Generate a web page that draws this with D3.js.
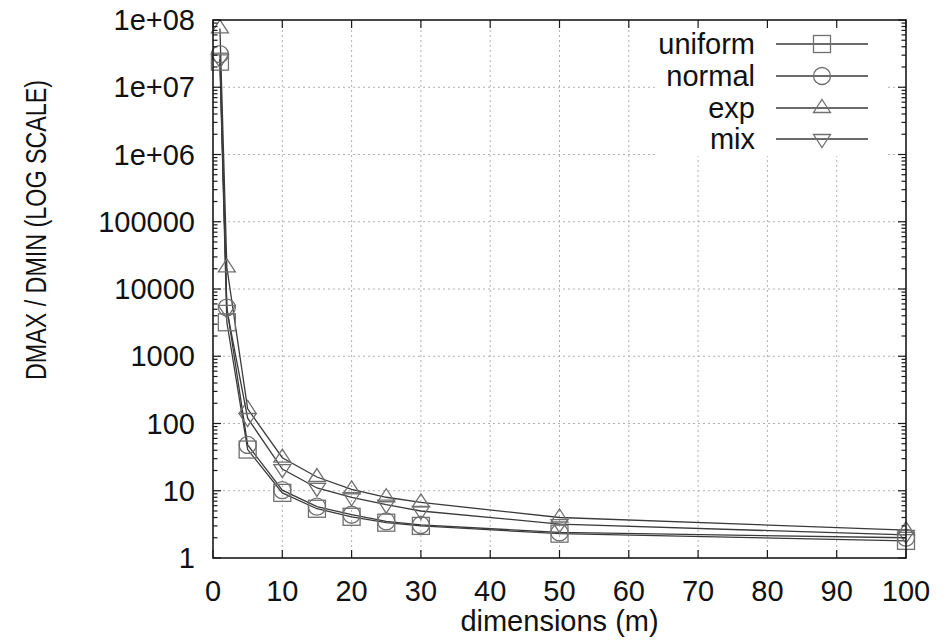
<!DOCTYPE html>
<html>
<head>
<meta charset="utf-8">
<script src="https://cdn.jsdelivr.net/npm/d3@7"></script>
<style>
  html, body { margin: 0; padding: 0; background: #fff; }
  svg { display: block; }
  text { font-family: "Liberation Sans", Arial, Helvetica, sans-serif; fill: #111; }
</style>
</head>
<body>
<svg id="chart" width="951" height="640"></svg>
<script>
// Dimensions m sampled in the experiment
const dims = [1, 2, 5, 10, 15, 20, 25, 30, 50, 100];

// DMAX / DMIN ratio per data distribution
const uniformVals = [2.4e7, 3200, 41, 9.3, 5.4, 4.1, 3.35, 3.0, 2.3, 1.8];
const normalVals  = [3.1e7, 5300, 48, 10.2, 5.8, 4.4, 3.5, 3.1, 2.4, 2.0];
const expVals     = [7.5e7, 21000, 165, 31, 16, 10.5, 8.0, 6.7, 4.0, 2.6];
const mixVals     = [2.6e7, 4900, 120, 21, 11, 8.0, 6.2, 5.0, 3.2, 2.2];

const seriesNames = ["uniform", "normal", "exp", "mix"];
const seriesShapes = ["square", "circle", "up", "down"];

const xTickValues = [0, 10, 20, 30, 40, 50, 60, 70, 80, 90, 100];
const yTickValues = [1, 10, 100, 1000, 10000, 100000, 1e6, 1e7, 1e8];
const yTickLabels = ["1", "10", "100", "1000", "10000", "100000", "1e+06", "1e+07", "1e+08"];

const xTitle = "dimensions (m)";
const yTitle = "DMAX / DMIN (LOG SCALE)";

const series = [uniformVals, normalVals, expVals, mixVals].map((vals, i) => ({
  name: seriesNames[i],
  shape: seriesShapes[i],
  points: dims.map((d, j) => ({ x: d, y: vals[j] }))
}));

const svg = d3.select("#chart");
const plot = { left: 213, right: 906, top: 20, bottom: 558 };

const x = d3.scaleLinear().domain([0, 100]).range([plot.left, plot.right]);
const y = d3.scaleLog().domain([1, 1e8]).range([plot.bottom, plot.top]);

const lineColor = "#3a3a3a";
const markColor = "#707070";
const axisColor = "#1a1a1a";

// Dotted grid at major ticks
const grid = svg.append("g");
grid.selectAll("line.gx").data(xTickValues.slice(1, -1)).join("line")
  .attr("x1", d => x(d)).attr("x2", d => x(d))
  .attr("y1", plot.top).attr("y2", plot.bottom)
  .attr("stroke", "#b0b0b0").attr("stroke-width", 1).attr("stroke-dasharray", "2,3");
grid.selectAll("line.gy").data(yTickValues.slice(1, -1)).join("line")
  .attr("x1", plot.left).attr("x2", plot.right)
  .attr("y1", d => y(d)).attr("y2", d => y(d))
  .attr("stroke", "#b0b0b0").attr("stroke-width", 1).attr("stroke-dasharray", "2,3");

// Key area hides the grid behind it
const key = { x0: 655, x1: 886, y0: 21, y1: 156 };
svg.append("rect")
  .attr("x", key.x0).attr("y", key.y0)
  .attr("width", key.x1 - key.x0).attr("height", key.y1 - key.y0)
  .attr("fill", "#fff");

// Marker drawing
function drawMarker(g, shape, cx, cy) {
  const s = 8.5;
  if (shape === "square") {
    g.append("rect").attr("x", cx - s).attr("y", cy - s)
      .attr("width", 2 * s).attr("height", 2 * s);
  } else if (shape === "circle") {
    g.append("circle").attr("cx", cx).attr("cy", cy).attr("r", s);
  } else if (shape === "up") {
    g.append("path").attr("d", `M${cx},${cy - 8.5}L${cx + 8.5},${cy + 4.5}L${cx - 8.5},${cy + 4.5}Z`);
  } else {
    g.append("path").attr("d", `M${cx},${cy + 8.5}L${cx + 8.5},${cy - 4.5}L${cx - 8.5},${cy - 4.5}Z`);
  }
}

// Series lines and markers
const line = d3.line().x(d => x(d.x)).y(d => y(d.y));
const dataG = svg.append("g");
series.forEach(s => {
  dataG.append("path").datum(s.points)
    .attr("d", line)
    .attr("fill", "none").attr("stroke", lineColor).attr("stroke-width", 1.3);
});
series.forEach(s => {
  const mg = dataG.append("g").attr("fill", "none").attr("stroke", markColor).attr("stroke-width", 1.3);
  s.points.forEach(p => drawMarker(mg, s.shape, x(p.x), y(p.y)));
});

// Axes: ticks pointing inward on all four sides
const axG = svg.append("g").attr("stroke", axisColor).attr("stroke-width", 1.2);
const majorLen = 8, minorLen = 4.5;
xTickValues.forEach(v => {
  axG.append("line").attr("x1", x(v)).attr("x2", x(v)).attr("y1", plot.bottom).attr("y2", plot.bottom - majorLen);
  axG.append("line").attr("x1", x(v)).attr("x2", x(v)).attr("y1", plot.top).attr("y2", plot.top + majorLen);
});
const minorY = [];
for (let k = 0; k < 8; k++) for (let m = 2; m <= 9; m++) minorY.push(m * Math.pow(10, k));
yTickValues.forEach(v => {
  axG.append("line").attr("x1", plot.left).attr("x2", plot.left + majorLen).attr("y1", y(v)).attr("y2", y(v));
  axG.append("line").attr("x1", plot.right).attr("x2", plot.right - majorLen).attr("y1", y(v)).attr("y2", y(v));
});
minorY.forEach(v => {
  axG.append("line").attr("x1", plot.left).attr("x2", plot.left + minorLen).attr("y1", y(v)).attr("y2", y(v));
  axG.append("line").attr("x1", plot.right).attr("x2", plot.right - minorLen).attr("y1", y(v)).attr("y2", y(v));
});
svg.append("rect")
  .attr("x", plot.left).attr("y", plot.top)
  .attr("width", plot.right - plot.left).attr("height", plot.bottom - plot.top)
  .attr("fill", "none").attr("stroke", axisColor).attr("stroke-width", 1.6);

// Tick labels
const fs = 29;
svg.append("g").selectAll("text").data(xTickValues).join("text")
  .attr("x", d => x(d)).attr("y", 601)
  .attr("text-anchor", "middle").attr("font-size", fs)
  .text(d => d);
svg.append("g").selectAll("text").data(yTickValues).join("text")
  .attr("x", 195).attr("y", d => y(d) + 10)
  .attr("text-anchor", "end").attr("font-size", fs)
  .text((d, i) => yTickLabels[i]);

// Axis titles
svg.append("text")
  .attr("x", x(50)).attr("y", 631)
  .attr("text-anchor", "middle").attr("font-size", fs)
  .text(xTitle);
// Rotated title, glyphs widened across the text direction
svg.append("text")
  .attr("transform", `translate(46,230) rotate(-90) scale(1,1.25)`)
  .attr("text-anchor", "middle").attr("font-size", 23.3)
  .text(yTitle);

// Key
const keyRows = [44, 76, 108, 139];
series.forEach((s, i) => {
  const ky = keyRows[i];
  svg.append("text").attr("x", 755).attr("y", ky + 10)
    .attr("text-anchor", "end").attr("font-size", fs).text(s.name);
  svg.append("line").attr("x1", 776).attr("x2", 868).attr("y1", ky).attr("y2", ky)
    .attr("stroke", lineColor).attr("stroke-width", 1.3);
  const mg = svg.append("g").attr("fill", "none").attr("stroke", markColor).attr("stroke-width", 1.3);
  drawMarker(mg, s.shape, 822, ky);
});
</script>
</body>
</html>
